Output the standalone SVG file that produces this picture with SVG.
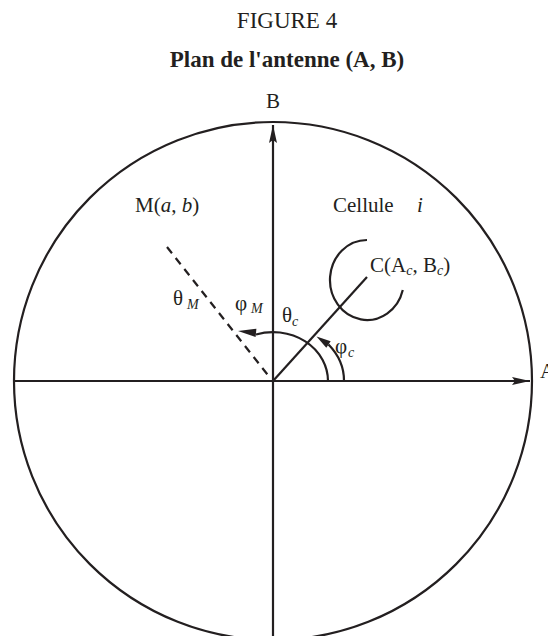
<svg xmlns="http://www.w3.org/2000/svg" width="548" height="636" viewBox="0 0 548 636">
<style>
text{font-family:"Liberation Serif","Times New Roman",serif;fill:#231f20;font-size:21px}
.t{font-size:23px}
.b{font-weight:bold}
.i{font-style:italic}
.s{font-size:14px;font-style:italic}
.ln{stroke:#231f20;stroke-width:2.2;fill:none}
.dash{stroke-dasharray:8 6}
.ah{fill:#231f20}
</style>
<defs>
<marker id="ax" viewBox="0 0 18 8" refX="18" refY="4" markerWidth="18" markerHeight="8" markerUnits="userSpaceOnUse" orient="auto">
<path d="M0 0 L18 4 L0 8 L3 4 Z" fill="#231f20"/>
</marker>
</defs>
<g id="title">
<text x="287" y="28" text-anchor="middle" class="t">FIGURE 4</text>
<text x="287" y="67" text-anchor="middle" class="t b">Plan de l'antenne (A, B)</text>
</g>
<g id="plane">
<circle class="ln" cx="273" cy="381" r="259"/>
</g>
<g id="cell">
<path class="ln" d="M 367 240 A 37 40 0 1 0 402.8 290"/>
<text x="370" y="272">C(A<tspan class="s" dy="3">c</tspan><tspan dy="-3">, B</tspan><tspan class="s" dy="3">c</tspan><tspan dy="-3">)</tspan></text>
<text x="333" y="212">Cellule<tspan x="417" class="i">i</tspan></text>
</g>
<g id="point-m">
<text x="135" y="212">M(<tspan class="i">a</tspan>, <tspan class="i">b</tspan>)</text>
</g>
<g id="connectors">
<line class="ln" x1="14" y1="381" x2="530" y2="381" marker-end="url(#ax)"/>
<line class="ln" x1="273" y1="636" x2="273" y2="125" marker-end="url(#ax)"/>
<line class="ln" x1="273" y1="381" x2="367" y2="277"/>
<line class="ln dash" x1="167" y1="247" x2="271" y2="379"/>
<path class="ln" d="M 328 381 A 55 49 0 0 0 256 334.5"/>
<polygon class="ah" points="238,331 256.4,328.8 255.6,337"/>
<path class="ln" d="M 344 381 A 71 58 0 0 0 328.5 344.5"/>
<polygon class="ah" points="316.5,336.5 330.7,341.2 326.3,347.8"/>
</g>
<g id="labels">
<text x="273" y="108" text-anchor="middle">B</text>
<text x="540" y="378">A</text>
<text x="173" y="305">θ<tspan class="s" x="187" dy="4">M</tspan></text>
<text x="235" y="310">φ<tspan class="s" x="251" dy="3">M</tspan></text>
<text x="282" y="322">θ<tspan class="s" x="292" dy="4">c</tspan></text>
<text x="335" y="353">φ<tspan class="s" x="348" dy="4">c</tspan></text>
</g>
</svg>
